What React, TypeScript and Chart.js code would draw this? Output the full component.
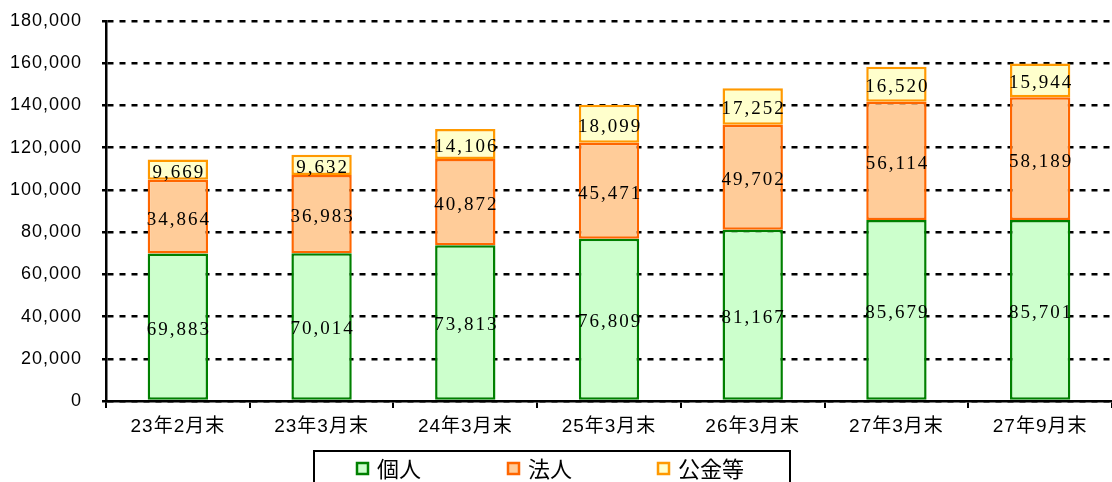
import React, { useEffect, useRef } from "react";
import { Chart, registerables } from "chart.js";

Chart.register(...registerables);

const categories = ["23年2月末", "23年3月末", "24年3月末", "25年3月末", "26年3月末", "27年3月末", "27年9月末"];
const seriesNames = ["個人", "法人", "公金等"];
const kojin = [69883, 70014, 73813, 76809, 81167, 85679, 85701];
const hojin = [34864, 36983, 40872, 45471, 49702, 56114, 58189];
const kokin = [9669, 9632, 14106, 18099, 17252, 16520, 15944];
const fills = ["#CCFFCC", "#FFCC99", "#FFFFCC"];
const borders = ["#008000", "#FF6600", "#FF9900"];

const fmt = (v: number) => v.toLocaleString("en-US");

const SANS = "'Liberation Sans', 'Noto Sans CJK JP', sans-serif";
const CJK = "'Noto Sans CJK JP', sans-serif";

const spacingPlugin = {
  id: "spacing",
  beforeDraw(chart: any) {
    (chart.ctx as any).letterSpacing = "1px";
  },
};

const dataLabelPlugin = {
  id: "dataLabels",
  afterDatasetsDraw(chart: any) {
    const ctx = chart.ctx;
    ctx.save();
    ctx.font = "19px 'Liberation Serif', serif";
    (ctx as any).letterSpacing = "2px";
    ctx.fillStyle = "#000";
    ctx.textAlign = "center";
    ctx.textBaseline = "middle";
    chart.data.datasets.forEach((ds: any, i: number) => {
      const meta = chart.getDatasetMeta(i);
      meta.data.forEach((bar: any, j: number) => {
        const { x, y, base } = bar.getProps(["x", "y", "base"], true);
        ctx.fillText(fmt(ds.data[j]), x + 1, (y + base) / 2 + 3);
      });
    });
    ctx.restore();
  },
};

const boxLegendPlugin = {
  id: "boxLegend",
  afterDraw(chart: any) {
    const ctx = chart.ctx;
    ctx.save();
    (ctx as any).letterSpacing = "0px";
    ctx.strokeStyle = "#000";
    ctx.lineWidth = 2;
    ctx.strokeRect(314, 451, 476, 40);
    const itemX = [357, 508, 658];
    const cy = 469;
    ctx.font = `22px ${CJK}`;
    ctx.textBaseline = "middle";
    ctx.textAlign = "left";
    chart.data.datasets.forEach((ds: any, i: number) => {
      const x = itemX[i];
      ctx.fillStyle = ds.backgroundColor;
      ctx.fillRect(x, cy - 6, 11, 11);
      ctx.strokeStyle = ds.borderColor;
      ctx.lineWidth = 2.5;
      ctx.strokeRect(x, cy - 6, 11, 11);
      ctx.fillStyle = "#000";
      ctx.fillText(ds.label, x + 20, cy);
    });
    ctx.restore();
    (ctx as any).letterSpacing = "0px";
  },
};

export default function App() {
  const ref = useRef<HTMLCanvasElement>(null);
  useEffect(() => {
    document.body.style.margin = "0";
    const series = [kojin, hojin, kokin];
    const chart = new Chart(ref.current!, {
      type: "bar",
      data: {
        labels: categories,
        datasets: series.map((d, i) => ({
          label: seriesNames[i],
          data: d,
          backgroundColor: fills[i],
          borderColor: borders[i],
          borderWidth: 2.5,
          borderSkipped: false,
          categoryPercentage: 1,
          barPercentage: 0.42,
        })),
      },
      options: {
        responsive: false,
        animation: false,
        layout: { padding: { top: 21, left: 0, right: 0, bottom: 0 } },
        plugins: { legend: { display: false }, tooltip: { enabled: false } },
        scales: {
          x: {
            stacked: true,
            grid: {
              display: true,
              drawOnChartArea: false,
              drawTicks: true,
              tickLength: 7,
              color: "#000",
              lineWidth: 2,
              offset: true,
            },
            border: { display: true, color: "#000", width: 2.5 },
            ticks: { color: "#000", font: { size: 19, family: SANS }, padding: 7 },
            afterFit: (s: any) => {
              s.height = 81;
              s.paddingLeft = 0;
              s.paddingRight = 0;
            },
          },
          y: {
            stacked: true,
            min: 0,
            max: 180000,
            ticks: {
              stepSize: 20000,
              color: "#000",
              font: { size: 18, family: SANS },
              padding: 20,
              callback: (v: any) => fmt(Number(v)),
            },
            grid: { color: "#000", lineWidth: 2.5, tickLength: 4, tickColor: "#000" },
            border: { display: true, color: "#000", width: 2.5, dash: [6, 6] },
            afterFit: (s: any) => {
              s.width = 106;
              s.paddingTop = 0;
              s.paddingBottom = 0;
            },
          },
        },
      },
      plugins: [spacingPlugin, dataLabelPlugin, boxLegendPlugin],
    });
    return () => chart.destroy();
  }, []);
  return <canvas ref={ref} width={1112} height={482} style={{ display: "block" }} />;
}
